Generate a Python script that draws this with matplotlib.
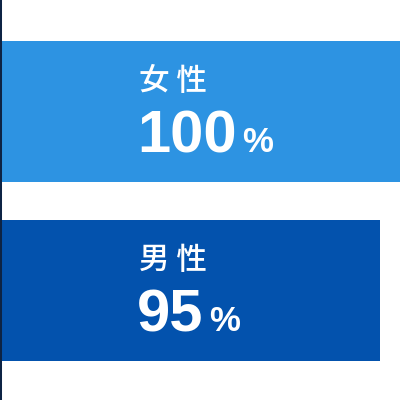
import matplotlib
matplotlib.use("Agg")
import matplotlib.pyplot as plt

# データ
labels = ["女 性", "男 性"]
values = [100, 95]
bar_colors = ["#2d93e2", "#0352ad"]

fig = plt.figure(figsize=(4, 4), dpi=100)
ax = fig.add_axes([0, 0, 1, 1])

pos = list(range(len(values)))
ax.barh(pos, values, height=0.788, color=bar_colors, left=0)

ax.set_xlim(-0.5, 100)
ax.set_ylim(1.612, -0.623)

# 軸の見た目
for side in ["top", "right", "bottom"]:
    ax.spines[side].set_visible(False)
ax.spines["left"].set_color("#0d2344")
ax.spines["left"].set_linewidth(2.9)
ax.set_xticks([])
ax.set_yticks([])

# ラベルと数値
for i, (lab, val) in enumerate(zip(labels, values)):
    ax.annotate(lab, xy=(0, i), xytext=(137, 30), textcoords="offset pixels",
                ha="left", va="center", color="white", fontsize=22,
                fontweight="medium", family=["Noto Sans CJK JP", "DejaVu Sans"])
    num = ax.annotate(str(val), xy=(0, i), xytext=(135, -41), textcoords="offset pixels",
                      ha="left", va="baseline", color="white", fontsize=43,
                      fontweight="bold", family="Liberation Sans")
    ax.annotate("%", xy=(1, i), xycoords=(num, "data"), xytext=(6, -41),
                textcoords="offset pixels", ha="left", va="baseline",
                color="white", fontsize=25, fontweight="bold", family="Liberation Sans")

fig.savefig("out.png", dpi=100)
